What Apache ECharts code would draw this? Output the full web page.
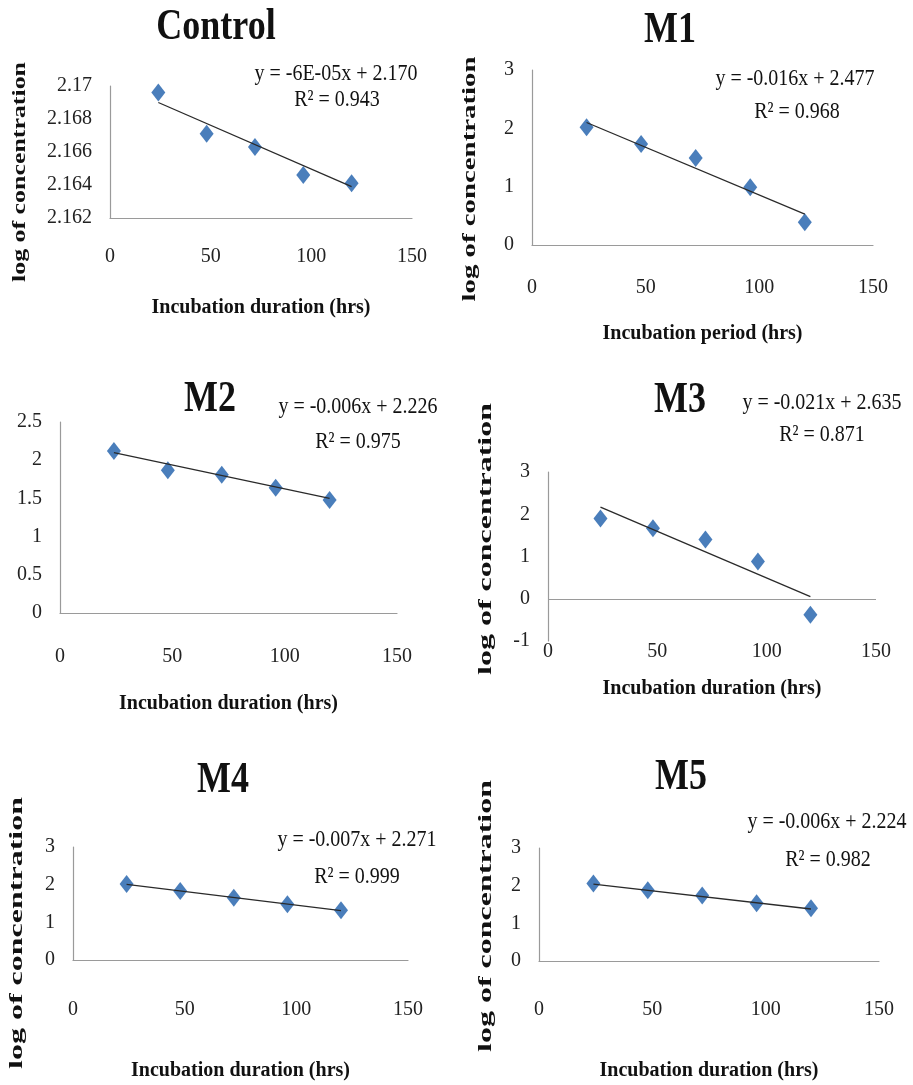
<!DOCTYPE html>
<html>
<head>
<meta charset="utf-8">
<title>log of concentration vs incubation time</title>
<script src="https://cdn.jsdelivr.net/npm/echarts@6/dist/echarts.min.js"></script>
<style>
  html, body { margin: 0; padding: 0; background: #fff; }
  #chart { width: 913px; height: 1085px; }
</style>
</head>
<body>
<div id="chart"></div>
<script>
// sampling times (hrs), same for every panel
const hours = [24, 48, 72, 96, 120]
const xTicks = [0, 50, 100, 150]

const panelNames = ['Control', 'M1', 'M2', 'M3', 'M4', 'M5']

// log of concentration
const controlLog = [2.1696, 2.1671, 2.1663, 2.1646, 2.1641]
const m1Log = [2.02, 1.73, 1.49, 0.99, 0.39]
const m2Log = [2.12, 1.87, 1.81, 1.64, 1.48]
const m3Log = [1.90, 1.67, 1.40, 0.88, -0.38]
const m4Log = [2.02, 1.83, 1.65, 1.48, 1.32]
const m5Log = [2.06, 1.88, 1.74, 1.53, 1.40]

// linear trendline as drawn: value at 24 h and at 120 h
const controlTrend = [2.1690, 2.1639]
const m1Trend = [2.10, 0.53]
const m2Trend = [2.10, 1.50]
const m3Trend = [2.17, 0.05]
const m4Trend = [2.01, 1.31]
const m5Trend = [2.04, 1.38]

const equations = [
  'y = -6E-05x + 2.170',
  'y = -0.016x + 2.477',
  'y = -0.006x + 2.226',
  'y = -0.021x + 2.635',
  'y = -0.007x + 2.271',
  'y = -0.006x + 2.224'
]
const rSquared = ['R² = 0.943', 'R² = 0.968', 'R² = 0.975', 'R² = 0.871', 'R² = 0.999', 'R² = 0.982']

// y ticks per panel: min, max, step
const yMin = [2.162, 0, 0, -1, 0, 0]
const yMax = [2.17, 3, 2.5, 3, 3, 3]
const yStep = [0.002, 1, 0.5, 1, 1, 1]

const xTitles = [
  'Incubation duration (hrs)',
  'Incubation period (hrs)',
  'Incubation duration (hrs)',
  'Incubation duration (hrs)',
  'Incubation duration (hrs)',
  'Incubation duration (hrs)'
]
const yTitle = 'log of concentration'

const logs = [controlLog, m1Log, m2Log, m3Log, m4Log, m5Log]
const trends = [controlTrend, m1Trend, m2Trend, m3Trend, m4Trend, m5Trend]

// --- layout (pixels) ---
// grid: left, top, width, height
const layout = [
  { grid: [110, 86, 302, 132], title: [216, 28], eq: [336, 74], r2: [337, 100], yName: [20, 172, 220], nameGap: 80, labelGap: 29 },
  { grid: [532, 70, 341, 175], title: [670, 31], eq: [795, 79], r2: [797, 112], yName: [470, 179, 245], nameGap: 79, labelGap: 33 },
  { grid: [60, 422, 337, 191], title: [210, 400], eq: [358, 407], r2: [358, 442], yName: null, nameGap: 81, labelGap: 34 },
  { grid: [548, 472, 328, 169], title: [680, 401], eq: [822, 403], r2: [822, 435], yName: [486, 539, 272], nameGap: 38, labelGap: 1 },
  { grid: [73, 847, 335, 113], title: [223, 781], eq: [357, 840], r2: [357, 877], yName: [17, 933, 272], nameGap: 101, labelGap: 40 },
  { grid: [539, 848, 340, 113], title: [681, 778], eq: [827, 822], r2: [828, 860], yName: [486, 916, 272], nameGap: 100, labelGap: 39 }
]

const serif = "'Liberation Serif', 'Times New Roman', serif"
const axisGray = '#9a9a9a'
const markerBlue = '#4a7ebb'

const measure = document.createElement('canvas').getContext('2d')
function textWidth(str, font) {
  measure.font = font
  return measure.measureText(str).width
}

function label(str, x, y, font, extra) {
  return Object.assign({
    type: 'text',
    x: x,
    y: y,
    silent: true,
    style: {
      text: str,
      font: font,
      fill: '#111',
      align: 'center',
      verticalAlign: 'middle',
      textAlign: 'center',
      textVerticalAlign: 'middle'
    }
  }, extra || {})
}

const grids = []
const xAxes = []
const yAxes = []
const series = []
const graphics = []

panelNames.forEach((name, i) => {
  const L = layout[i]
  const isM3 = i === 3

  grids.push({
    left: L.grid[0], top: L.grid[1], width: L.grid[2], height: L.grid[3],
    containLabel: false, outerBoundsMode: 'none'
  })

  xAxes.push({
    type: 'value',
    gridIndex: i,
    min: xTicks[0],
    max: xTicks[xTicks.length - 1],
    interval: xTicks[1] - xTicks[0],
    name: xTitles[i],
    nameLocation: 'middle',
    nameGap: L.nameGap,
    nameTextStyle: { fontFamily: serif, fontWeight: 'bold', fontSize: 20, color: '#111' },
    axisLine: { show: !isM3, onZero: false, lineStyle: { color: axisGray, width: 1.2 } },
    axisTick: { show: false },
    splitLine: { show: false },
    axisLabel: { fontFamily: serif, fontSize: 20, color: '#222', margin: L.labelGap }
  })

  yAxes.push({
    type: 'value',
    gridIndex: i,
    min: yMin[i],
    max: yMax[i],
    interval: yStep[i],
    axisLine: { show: true, onZero: false, lineStyle: { color: axisGray, width: 1.2 } },
    axisTick: { show: false },
    splitLine: { show: false },
    axisLabel: {
      fontFamily: serif, fontSize: 20, color: '#222', margin: 18,
      formatter: v => String(Number(v.toFixed(3)))
    }
  })

  const pts = hours.map((h, k) => [h, logs[i][k]])
  const scatter = {
    type: 'scatter',
    xAxisIndex: i,
    yAxisIndex: i,
    data: pts,
    symbol: 'diamond',
    symbolSize: [14, 18],
    itemStyle: { color: markerBlue, opacity: 1 },
    z: 2
  }
  if (isM3) {
    // horizontal axis crosses at zero in this panel
    scatter.markLine = {
      silent: true,
      symbol: 'none',
      label: { show: false },
      lineStyle: { color: axisGray, width: 1.2, type: 'solid' },
      data: [{ yAxis: 0 }]
    }
  }
  series.push(scatter)

  series.push({
    type: 'line',
    xAxisIndex: i,
    yAxisIndex: i,
    data: [[hours[0], trends[i][0]], [hours[hours.length - 1], trends[i][1]]],
    symbol: 'none',
    lineStyle: { color: '#2a2a2a', width: 1.3 },
    silent: true,
    z: 3
  })

  // panel heading
  graphics.push(label(name, L.title[0], L.title[1], 'bold 36px ' + serif, { scaleY: 1.22 }))
  // trendline equation
  graphics.push(label(equations[i], L.eq[0], L.eq[1], '20px ' + serif, { scaleY: 1.12 }))
  graphics.push(label(rSquared[i], L.r2[0], L.r2[1], '20px ' + serif, { scaleY: 1.12 }))

  // rotated y axis title, stretched to the length seen in the figure
  if (L.yName) {
    const font = 'bold 19px ' + serif
    const w = textWidth(yTitle, font)
    graphics.push(label(yTitle, L.yName[0], L.yName[1], font, {
      rotation: Math.PI / 2,
      scaleX: L.yName[2] / w
    }))
  }
})

const chart = echarts.init(document.getElementById('chart'), null, { renderer: 'canvas' })
chart.setOption({
  backgroundColor: '#fff',
  animation: false,
  grid: grids,
  xAxis: xAxes,
  yAxis: yAxes,
  series: series,
  graphic: { elements: graphics }
})
</script>
</body>
</html>
